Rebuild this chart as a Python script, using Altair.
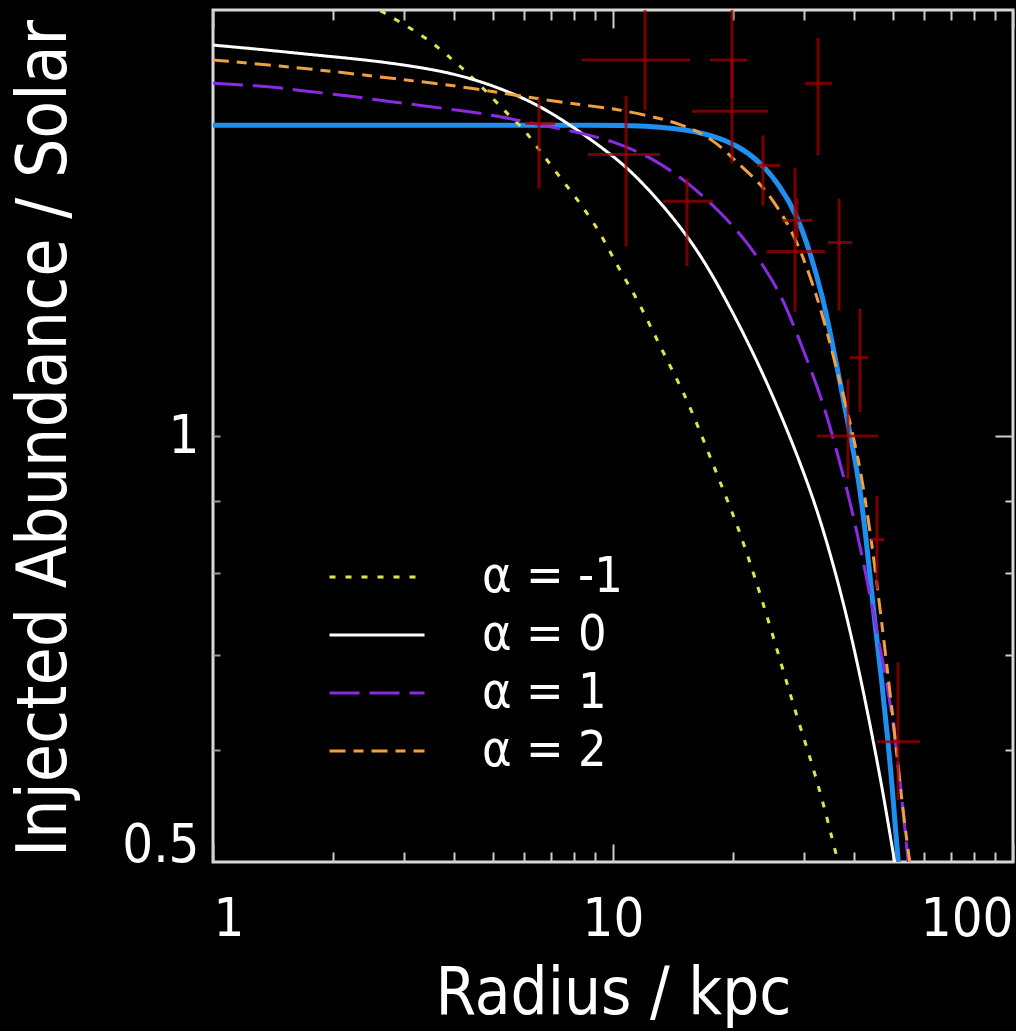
import altair as alt
import pandas as pd

FONT = "DejaVu Sans Condensed, DejaVu Sans"
TICK = "#cfcfcf"
RED = "#9c0000"

# ---- model curves: radius (kpc) vs injected abundance (solar) ----
labels = ["α = -1", "α = 0", "α = 1", "α = 2"]
line_colors = ["#e2e24e", "#ffffff", "#8a2be2", "#f0a040"]
line_dashes = [[6, 10], [1, 0], [30, 10], [16, 8, 10, 8]]

r_am1 = [1.0, 1.445, 1.928, 2.570, 2.818, 3.428, 3.981, 4.390, 4.925, 5.433, 5.957, 6.310, 7.079, 8.128, 9.279,
         10.23, 11.48, 12.59, 13.88, 15.31, 17.18, 19.28, 20.77, 23.31, 26.15, 28.84, 31.62, 34.28, 36.31, 39.13]
z_am1 = [2.177, 2.125, 2.073, 2.006, 1.974, 1.911, 1.844, 1.799, 1.741, 1.690, 1.650, 1.615, 1.546, 1.471, 1.395,
         1.319, 1.251, 1.185, 1.121, 1.062, 0.979, 0.902, 0.855, 0.775, 0.695, 0.633, 0.584, 0.538, 0.502, 0.470]

r_a0 = [1.0, 1.365, 1.820, 2.570, 3.548, 4.315, 5.22, 6.31, 7.674, 10.23, 11.68, 13.34, 15.31, 17.18, 18.84,
        20.77, 22.65, 24.97, 28.18, 31.62, 34.28, 36.94, 39.36, 42.17, 44.67, 47.32, 50.12, 50.99]
z_a0 = [1.889, 1.874, 1.858, 1.841, 1.816, 1.793, 1.761, 1.721, 1.666, 1.571, 1.516, 1.455, 1.386, 1.319, 1.259,
        1.195, 1.137, 1.071, 0.987, 0.905, 0.841, 0.779, 0.724, 0.662, 0.610, 0.560, 0.508, 0.494]

r_a1 = [1.0, 1.365, 1.718, 2.2, 2.723, 3.428, 4.315, 5.22, 6.31, 8.035, 10.12, 12.59, 15.31, 18.52, 21.63,
        24.27, 26.61, 29.85, 32.36, 34.28, 36.31, 38.46, 40.74, 43.15, 45.71, 48.42, 51.29, 53.09, 54.64, 55.28]
z_a1 = [1.775, 1.767, 1.752, 1.739, 1.724, 1.710, 1.696, 1.682, 1.663, 1.641, 1.615, 1.571, 1.513, 1.441, 1.372,
        1.307, 1.251, 1.152, 1.085, 1.033, 0.974, 0.917, 0.855, 0.792, 0.727, 0.670, 0.600, 0.544, 0.502, 0.486]

r_a2 = [1.0, 1.496, 1.995, 2.818, 4.146, 6.31, 8.414, 10.0, 12.16, 14.71, 17.78, 20.77, 23.71, 26.61, 28.84,
        31.08, 33.5, 36.94, 39.13, 41.45, 43.15, 44.67, 45.97, 47.86, 48.7, 50.12, 51.58, 53.09, 54.33, 55.28, 55.92]
z_a2 = [1.844, 1.825, 1.810, 1.789, 1.767, 1.733, 1.713, 1.704, 1.685, 1.663, 1.623, 1.553, 1.503, 1.432, 1.372,
        1.298, 1.216, 1.092, 1.023, 0.952, 0.885, 0.828, 0.775, 0.707, 0.676, 0.633, 0.584, 0.544, 0.516, 0.499, 0.486]

# ---- best-fit profile (thick blue) ----
r_fit = [1.0, 5.22, 9.279, 11.03, 14.71, 17.78, 20.42, 23.31, 26.15, 28.84, 31.08, 33.5, 34.87, 36.94, 38.68,
         40.74, 42.41, 43.65, 44.93, 47.04, 48.42, 49.83, 51.29, 52.19]
z_fit = [1.658, 1.658, 1.658, 1.658, 1.650, 1.631, 1.605, 1.563, 1.503, 1.432, 1.350, 1.251, 1.185, 1.092, 1.020,
         0.948, 0.873, 0.809, 0.746, 0.670, 0.617, 0.569, 0.510, 0.486]

# ---- observed points with error bars ----
obs_r = [6.53, 12.02, 10.78, 15.31, 19.84, 19.84, 23.71, 32.55, 28.84, 28.51, 36.73, 41.45, 38.68, 45.71, 51.58]
obs_r_lo = [6.03, 8.36, 8.66, 13.34, 17.48, 15.76, 22.91, 30.2, 26.46, 24.27, 34.47, 39.13, 32.36, 44.16, 45.71]
obs_r_hi = [7.16, 15.58, 13.11, 17.78, 21.63, 24.41, 26.15, 35.28, 31.44, 33.88, 39.58, 43.40, 45.97, 47.59, 58.55]
obs_z = [1.663, 1.844, 1.581, 1.465, 1.844, 1.696, 1.553, 1.775, 1.420, 1.350, 1.370, 1.136, 1.0, 0.845, 0.608]
obs_z_lo = [1.496, 1.699, 1.361, 1.319, 1.733, 1.558, 1.455, 1.579, 1.379, 1.224, 1.226, 1.040, 0.932, 0.779, 0.553]
obs_z_hi = [1.733, 2.14, 1.739, 1.521, 2.2, 1.844, 1.631, 1.911, 1.471, 1.546, 1.471, 1.230, 1.097, 0.907, 0.692]

# ---- axis ticks ----
x_major = [1, 10, 100]
x_minor = [2, 3, 4, 5, 6, 7, 8, 9, 20, 30, 40, 50, 60, 70, 80, 90]
y_labels = [0.5, 1]
y_major = [1]
y_minor = [0.6, 0.7, 0.8, 0.9]
y_left = [0.6, 0.7, 0.8, 0.9, 1]

# ---- tables ----
rows = []
for lab, rr, zz in zip(labels, [r_am1, r_a0, r_a1, r_a2], [z_am1, z_a0, z_a1, z_a2]):
    for a, b in zip(rr, zz):
        rows.append({"r": a, "z": b, "label": lab})
models = pd.DataFrame(rows)
fit = pd.DataFrame({"r": r_fit, "z": z_fit})
obs = pd.DataFrame({"r": obs_r, "rlo": obs_r_lo, "rhi": obs_r_hi, "z": obs_z, "zlo": obs_z_lo, "zhi": obs_z_hi})

xs = alt.Scale(type="log", domain=[1, 100], nice=False)
ys = alt.Scale(type="log", domain=[0.5, 2], nice=False)


def tick_axis(orient, values, size, color=TICK):
    return alt.Axis(orient=orient, values=values, offset=-size, tickSize=size, ticks=True, labels=False,
                    domain=False, grid=False, title=None, tickColor=color, tickWidth=2)


x_lab_axis = alt.Axis(orient="bottom", values=x_major, format="~g", ticks=False, tickSize=0, domain=False,
                      grid=False, labelFlush=True, labelPadding=30, labelFontSize=54, labelFont=FONT,
                      labelColor="white", labelOverlap=False,
                      title="Radius / kpc", titleFont=FONT, titleFontSize=65, titleFontWeight="normal",
                      titleColor="white", titleX=400, titleY=151, titleAlign="center",
                      titleBaseline="alphabetic")
y_lab_axis = alt.Axis(orient="left", values=y_labels, format="~g", ticks=False, tickSize=0, domain=False,
                      grid=False, labelFlush=True, labelFlushOffset=10, labelPadding=14, labelFontSize=54,
                      labelFont=FONT, labelColor="white", labelOverlap=False,
                      title="Injected Abundance / Solar", titleFont=FONT, titleFontSize=69,
                      titleFontWeight="normal", titleColor="white", titleAngle=270, titleX=-148, titleY=428,
                      titleAlign="center", titleBaseline="alphabetic")

fit_layer = alt.Chart(fit).mark_line(color="#1e8ff0", strokeWidth=5, clip=True, interpolate="basis").encode(
    x=alt.X("r:Q", scale=xs, axis=x_lab_axis),
    y=alt.Y("z:Q", scale=ys, axis=y_lab_axis),
)

model_layer = alt.Chart(models).mark_line(strokeWidth=3, clip=True, interpolate="basis").encode(
    x=alt.X("r:Q", scale=xs, axis=tick_axis("bottom", x_major, 18)),
    y=alt.Y("z:Q", scale=ys, axis=tick_axis("left", y_left, 7, "#9a9a9a")),
    color=alt.Color("label:N", scale=alt.Scale(domain=labels, range=line_colors), title=None),
    strokeDash=alt.StrokeDash("label:N", scale=alt.Scale(domain=labels, range=line_dashes), title=None),
)

err_x = alt.Chart(obs).mark_rule(color=RED, strokeWidth=3, opacity=0.75, clip=True).encode(
    x=alt.X("rlo:Q", scale=xs, axis=None), x2="rhi:Q",
    y=alt.Y("z:Q", scale=ys, axis=None),
)
err_y = alt.Chart(obs).mark_rule(color=RED, strokeWidth=3, opacity=0.75, clip=True).encode(
    x=alt.X("r:Q", scale=xs, axis=None),
    y=alt.Y("zlo:Q", scale=ys, axis=None), y2="zhi:Q",
)


def ghost(x_axis, y_axis):
    return alt.Chart(fit).mark_line(opacity=0).encode(
        x=alt.X("r:Q", scale=xs, axis=x_axis),
        y=alt.Y("z:Q", scale=ys, axis=y_axis),
    )


g1 = ghost(tick_axis("bottom", x_minor, 10), tick_axis("right", y_major, 18))
g2 = ghost(tick_axis("top", x_major, 18), tick_axis("right", y_minor, 8))
g3 = ghost(tick_axis("top", x_minor, 10), None)

chart = alt.layer(fit_layer, model_layer, err_x, err_y, g1, g2, g3).resolve_axis(
    x="independent", y="independent"
).properties(
    width=800, height=852,
    padding={"left": 213, "top": 10, "right": 3, "bottom": 169},
    autosize=alt.AutoSizeParams(type="none"),
    background="black",
).configure_view(
    stroke="#d8d8d8", strokeWidth=3
).configure_legend(
    orient="none", legendX=115, legendY=538, symbolType="stroke", symbolSize=9025, symbolStrokeWidth=3,
    labelFont=FONT, labelFontSize=50, labelColor="white", clipHeight=58, labelOffset=56, padding=0,
    rowPadding=0, symbolOffset=0
)

chart.save("out.html", embed_options={"renderer": "svg", "actions": False})
